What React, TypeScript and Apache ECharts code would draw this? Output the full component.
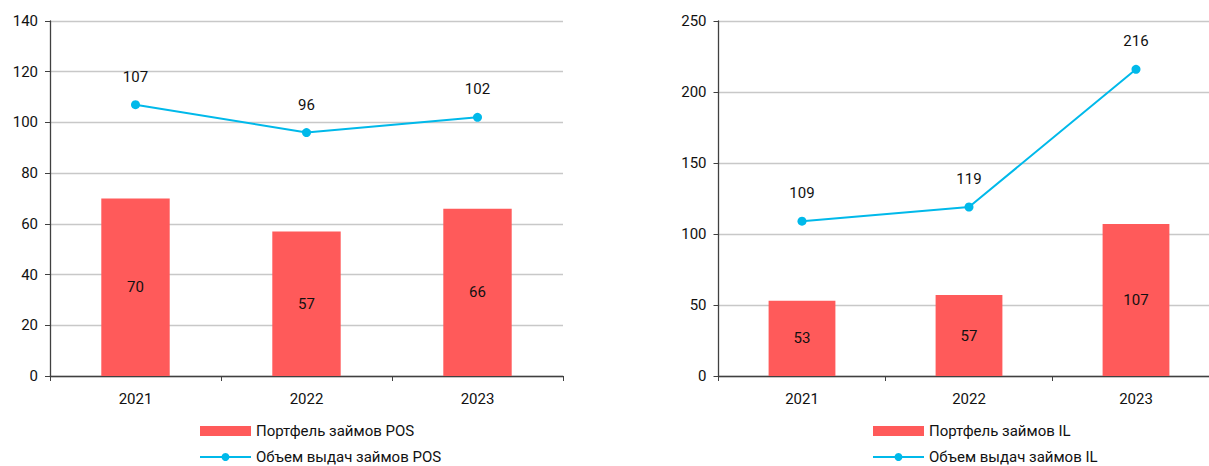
import React, { useEffect, useRef } from "react";
import * as echarts from "echarts";

const years = ["2021", "2022", "2023"];
const posPortfolio = [70, 57, 66];
const posIssuance = [107, 96, 102];
const ilPortfolio = [53, 57, 107];
const ilIssuance = [109, 119, 216];
const leftNames = ["Портфель займов POS", "Объем выдач займов POS"];
const rightNames = ["Портфель займов IL", "Объем выдач займов IL"];

const BAR = "#FF5A5A";
const LINE = "#00B9EA";
const FONT = "'Liberation Sans Narrow', Roboto, sans-serif";
const TXT = "#111";

export default function App() {
  const ref = useRef<HTMLDivElement>(null);
  useEffect(() => {
    if (!ref.current) return;
    document.body.style.overflow = "hidden";
    const chart = echarts.init(ref.current, undefined, { renderer: "svg" });
    const xAxisBase = (gridIndex: number) => ({
      type: "category" as const,
      gridIndex,
      data: years,
      axisLine: { lineStyle: { color: "#404040", width: 1.3 } },
      axisTick: { show: true, length: 5, lineStyle: { color: "#404040" } },
      axisLabel: { color: TXT, fontSize: 15, margin: 15, fontFamily: FONT },
    });
    const yAxisBase = (gridIndex: number, max: number, interval: number) => ({
      type: "value" as const,
      gridIndex,
      min: 0,
      max,
      interval,
      axisLine: { show: true, lineStyle: { color: "#404040", width: 1.3 } },
      axisTick: { show: true, length: 5, lineStyle: { color: "#404040" } },
      axisLabel: { color: TXT, fontSize: 15, margin: 12, fontFamily: FONT },
      splitLine: { lineStyle: { color: "#C8C8C8", width: 1.3 } },
    });
    const barSeries = (name: string, data: number[], idx: number) => ({
      name,
      type: "bar" as const,
      xAxisIndex: idx,
      yAxisIndex: idx,
      data,
      barWidth: "40%",
      itemStyle: { color: BAR },
      label: {
        show: true,
        position: "inside" as const,
        color: TXT,
        fontSize: 15,
        fontFamily: FONT,
      },
    });
    const lineSeries = (name: string, data: number[], idx: number) => ({
      name,
      type: "line" as const,
      xAxisIndex: idx,
      yAxisIndex: idx,
      data,
      symbol: "circle",
      symbolSize: 9,
      lineStyle: { color: LINE, width: 2 },
      itemStyle: { color: LINE },
      label: {
        show: true,
        position: "top" as const,
        distance: 16,
        color: TXT,
        fontSize: 15,
        fontFamily: FONT,
      },
    });
    const legendBase = (left: number, names: string[]) => ({
      orient: "vertical" as const,
      left,
      top: 423,
      height: 80,
      padding: 0,
      itemWidth: 51,
      itemHeight: 10,
      itemGap: 10,
      textStyle: { color: TXT, fontSize: 15, fontFamily: FONT, lineHeight: 16 },
      data: [{ name: names[0], icon: "rect" }, { name: names[1] }],
    });
    chart.setOption({
      animation: false,
      backgroundColor: "#fff",
      grid: [
        { left: 50, top: 21, width: 513, height: 355 },
        { left: 718.5, top: 21, width: 501, height: 355 },
      ],
      xAxis: [xAxisBase(0), xAxisBase(1)],
      yAxis: [yAxisBase(0, 140, 20), yAxisBase(1, 250, 50)],
      legend: [legendBase(199, leftNames), legendBase(872, rightNames)],
      series: [
        barSeries(leftNames[0], posPortfolio, 0),
        lineSeries(leftNames[1], posIssuance, 0),
        barSeries(rightNames[0], ilPortfolio, 1),
        lineSeries(rightNames[1], ilIssuance, 1),
      ],
    });
    return () => chart.dispose();
  }, []);
  return (
    <div
      ref={ref}
      style={{ position: "fixed", left: 0, top: 0, width: 1230, height: 466 }}
    />
  );
}
